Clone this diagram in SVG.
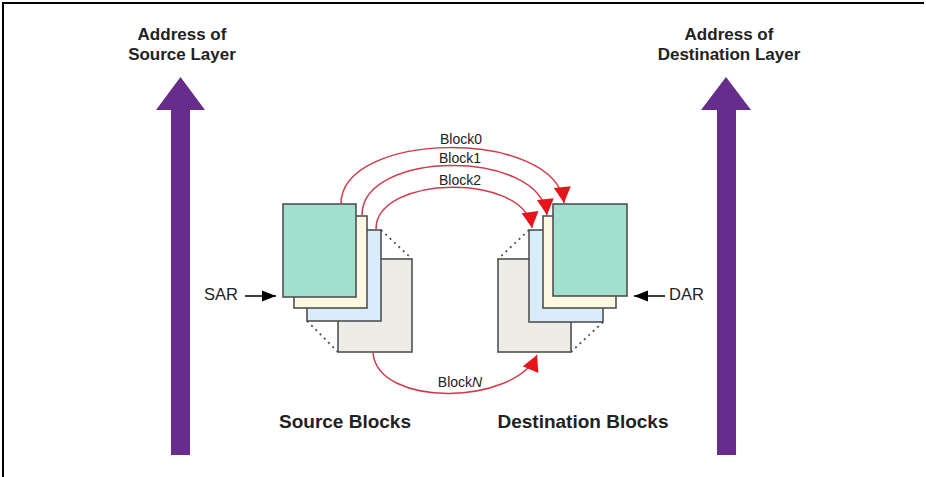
<svg xmlns="http://www.w3.org/2000/svg" width="926" height="477" viewBox="0 0 926 477">
<defs>
<style>
.bold{font-family:"Liberation Sans",Arial,sans-serif;font-weight:bold;fill:#222}
.lbl{font-family:"Liberation Sans",Arial,sans-serif;fill:#222}
.blk{stroke:#505050;stroke-width:1.6}
.teal{fill:#a2dfcf}
.cream{fill:#fdf8e2}
.blue{fill:#d8edf9}
.grey{fill:#eeece7}
.dot{stroke:#505050;stroke-width:1.8;stroke-dasharray:2 4;fill:none}
.arc{fill:none;stroke:#cf3a4a;stroke-width:1.5;marker-end:url(#red)}
.purple{fill:#662d8c}
</style>
<marker id="red" viewBox="-1 -10 18 20" markerWidth="18" markerHeight="20" refX="16" refY="0" orient="auto" markerUnits="userSpaceOnUse">
<path d="M0,-8.5 L16,0 L0,8.5 Z" fill="#e8141c"/>
</marker>
<marker id="blk" viewBox="0 -7 15 14" markerWidth="15" markerHeight="14" refX="14" refY="0" orient="auto" markerUnits="userSpaceOnUse">
<path d="M0,-5.5 L14,0 L0,5.5 Z" fill="#000"/>
</marker>
</defs>
<rect x="0" y="0" width="926" height="477" fill="#fff"/>
<g id="frame" stroke="#000" stroke-width="2" fill="none">
<path d="M3,477 L3,3 L924,3"/>
</g>
<g id="source-layer">
<polygon class="purple" points="180.5,77 205,110 190,110 190,455 171,455 171,110 156,110"/>
<text class="bold" x="182" y="40" font-size="17" text-anchor="middle">Address of</text>
<text class="bold" x="182" y="60" font-size="17" text-anchor="middle">Source Layer</text>
</g>
<g id="destination-layer">
<polygon class="purple" points="726,77 751,110 736,110 736,455 717,455 717,110 701,110"/>
<text class="bold" x="729" y="40" font-size="17" text-anchor="middle">Address of</text>
<text class="bold" x="729" y="60" font-size="17" text-anchor="middle">Destination Layer</text>
</g>
<g id="source-blocks">
<path class="dot" d="M381,230 L412,259 M307,321 L338,352"/>
<rect class="blk grey" x="338" y="259" width="74" height="93"/>
<rect class="blk blue" x="307" y="230" width="74" height="91"/>
<rect class="blk cream" x="294" y="216" width="73" height="92"/>
<rect class="blk teal" x="283" y="204" width="73" height="93"/>
<text class="bold" x="345" y="428" font-size="19" text-anchor="middle">Source Blocks</text>
</g>
<g id="destination-blocks">
<path class="dot" d="M529,230 L498,259 M603,322 L571,352"/>
<rect class="blk grey" x="498" y="259" width="73" height="93"/>
<rect class="blk blue" x="529" y="230" width="74" height="92"/>
<rect class="blk cream" x="543" y="216" width="73" height="92"/>
<rect class="blk teal" x="553" y="204" width="74" height="92"/>
<text class="bold" x="583" y="428" font-size="19" text-anchor="middle">Destination Blocks</text>
</g>
<g id="sar">
<text class="lbl" x="204" y="300" font-size="16.5">SAR</text>
</g>
<g id="dar">
<text class="lbl" x="669" y="300" font-size="16.5">DAR</text>
</g>
<g id="connectors">
<line x1="245" y1="296" x2="276" y2="296" stroke="#000" stroke-width="1.5" marker-end="url(#blk)"/>
<line x1="665" y1="296" x2="634" y2="296" stroke="#000" stroke-width="1.5" marker-end="url(#blk)"/>
<path class="arc" d="M341,204 C341,130 556,128 564,203"/>
<path class="arc" d="M362,215 C362,150 540,148 547,215"/>
<path class="arc" d="M376,229 C376,175 525,172 532,228"/>
<path class="arc" d="M373,353 C378,408 515,405 537,355"/>
<text class="lbl" x="461" y="144" font-size="14" text-anchor="middle">Block0</text>
<text class="lbl" x="460" y="163" font-size="14" text-anchor="middle">Block1</text>
<text class="lbl" x="460" y="185" font-size="14" text-anchor="middle">Block2</text>
<text class="lbl" x="460" y="387" font-size="14" text-anchor="middle">Block<tspan font-style="italic">N</tspan></text>
</g>
</svg>
